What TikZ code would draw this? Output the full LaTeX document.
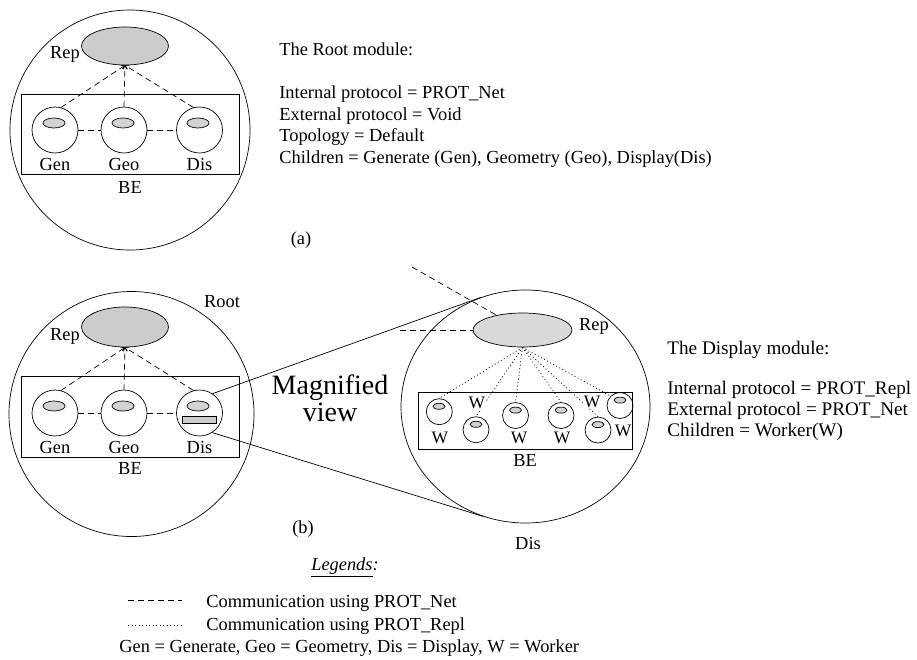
\documentclass[tikz,border=0pt]{standalone}
\usepackage{fontspec}
\setmainfont{Liberation Serif}
\usetikzlibrary{shapes.geometric, arrows.meta, positioning}
\tikzset{
  shell/.style={ellipse, draw, inner sep=0pt},
  repblob/.style={ellipse, draw, fill=gray!40, inner sep=0pt},
  module/.style={circle, draw, minimum size=46pt, inner sep=0pt},
  worker/.style={circle, draw, minimum size=26pt, inner sep=0pt},
  core/.style={ellipse, draw, fill=gray!35, inner sep=0pt},
  bebox/.style={rectangle, draw, inner sep=0pt},
  txt/.style={inner sep=1pt},
  wtag/.style={inner sep=0.5pt, fill=white, font=\fontsize{17.5}{19}\selectfont},
  netlink/.style={dash pattern=on 6pt off 4pt},
  repllink/.style={dash pattern=on 1pt off 2.5pt},
  uparrow/.style={-{Straight Barb[length=3pt,width=5pt]}},
}

\begin{document}
\begin{tikzpicture}[x=1pt, y=-1pt, line width=0.7pt, font=\fontsize{18.4}{21.7}\selectfont]
  \useasboundingbox (0,0) rectangle (917,659);

  % (a) the root module
  \node[shell, minimum width=240pt, minimum height=240pt] (roota) at (130,130) {};
  \node[repblob, minimum width=87pt, minimum height=38pt] (repa) at (125,46) {};
  \node[txt] (repalbl) at (65,54) {Rep};
  \node[bebox, minimum width=218pt, minimum height=80pt,
        label={[txt,label distance=6pt]below:BE}] (bea) at (130,134) {};
  \node[module, label={[txt,label distance=4pt]below:Gen}] (gena) at (55,130) {};
  \node[module, label={[txt,label distance=4pt]below:Geo}] (geoa) at (124,130) {};
  \node[module, label={[txt,label distance=4pt]below:Dis}] (disa) at (199.5,130) {};
  \node[core, minimum width=22pt, minimum height=10pt] (gencorea) at (54,123) {};
  \node[core, minimum width=22pt, minimum height=10pt] (geocorea) at (123,123) {};
  \node[core, minimum width=22pt, minimum height=10pt] (discorea) at (198,123) {};

  \draw[netlink, uparrow] (gena.75) -- (repa.south);
  \draw[netlink, uparrow] (geoa.north) -- (repa.south);
  \draw[netlink, uparrow] (disa.105) -- (repa.south);
  \draw[netlink] (gena) -- (geoa);
  \draw[netlink] (geoa) -- (disa);

  \node[txt, anchor=north west, align=left] (rootinfo) at (278,41)
    {The Root module:\\[21.7pt]
     Internal protocol = PROT\_Net\\
     External protocol = Void\\
     Topology = Default\\
     Children = Generate (Gen), Geometry (Geo), Display(Dis)};
  \node[txt] (capa) at (301,240) {(a)};

  % (b) the same root, with Display magnified
  \node[shell, minimum width=245pt, minimum height=245pt] (rootb) at (131.5,414) {};
  \node[txt] (rootlbl) at (222,302) {Root};
  \node[repblob, minimum width=87pt, minimum height=40pt] (repb) at (125,327) {};
  \node[txt] (repblbl) at (65,336) {Rep};
  \node[bebox, minimum width=218pt, minimum height=81pt,
        label={[txt,label distance=4pt]below:BE}] (beb) at (130,416.5) {};
  \node[module, label={[txt,label distance=4pt]below:Gen}] (genb) at (55,413) {};
  \node[module, label={[txt,label distance=4pt]below:Geo}] (geob) at (124,413) {};
  \node[module, label={[txt,label distance=4pt]below:Dis}] (disb) at (199.5,413) {};
  \node[core, minimum width=22pt, minimum height=10pt] (gencoreb) at (54,406) {};
  \node[core, minimum width=22pt, minimum height=10pt] (geocoreb) at (123,406) {};
  \node[core, minimum width=22pt, minimum height=10pt] (discoreb) at (198,406) {};
  \node[rectangle, draw, fill=gray!40, minimum width=34pt, minimum height=7pt,
        inner sep=0pt] (disbuf) at (199,419.5) {};

  \draw[netlink, uparrow] (genb.75) -- (repb.south);
  \draw[netlink, uparrow] (geob.north) -- (repb.south);
  \draw[netlink, uparrow] (disb.105) -- (repb.south);
  \draw[netlink] (genb) -- (geob);
  \draw[netlink] (geob) -- (disb);

  \node[txt, align=center, font=\fontsize{28}{27}\selectfont] (magtxt) at (330,398)
    {Magnified\\view};

  % magnified Display module
  \node[shell, minimum width=249pt, minimum height=233pt] (magdis) at (525.5,406.5) {};
  \node[txt] (magdislbl) at (528,543) {Dis};
  \draw (disb.56) -- (magdis.112);
  \draw (disb.-57) -- (magdis.-111);

  \node[repblob, fill=gray!30, minimum width=99pt, minimum height=34pt] (magrep) at (522.5,330) {};
  \node[txt] (magreplbl) at (594,326) {Rep};
  \coordinate (netin1) at (412,267);
  \coordinate (netin2) at (400,330);
  \draw[netlink] (netin1) -- (magrep);
  \draw[netlink] (netin2) -- (magrep);

  \node[bebox, minimum width=214pt, minimum height=57pt,
        label={[txt,label distance=4pt]below:BE}] (magbe) at (525,420.5) {};
  \node[worker] (w1) at (439.3,411.7) {};
  \node[worker] (w2) at (476,429.7) {};
  \node[worker] (w3) at (515.5,415.5) {};
  \node[worker] (w4) at (561,415.5) {};
  \node[worker] (w5) at (598,430) {};
  \node[worker] (w6) at (620,405.5) {};
  \node[core, minimum width=12pt, minimum height=6pt] (w1core) at (439,406.3) {};
  \node[core, minimum width=12pt, minimum height=6pt] (w2core) at (476,424.3) {};
  \node[core, minimum width=12pt, minimum height=6pt] (w3core) at (515.5,410.1) {};
  \node[core, minimum width=12pt, minimum height=6pt] (w4core) at (561,410.1) {};
  \node[core, minimum width=12pt, minimum height=6pt] (w5core) at (598,424.6) {};
  \node[core, minimum width=12pt, minimum height=6pt] (w6core) at (620,400.1) {};

  \draw[repllink] (magrep.south) -- (w1.north);
  \draw[repllink] (magrep.south) -- (w2.north);
  \draw[repllink] (magrep.south) -- (w3.north);
  \draw[repllink] (magrep.south) -- (w4.north);
  \draw[repllink] (magrep.south) -- (w5.north);
  \draw[repllink] (magrep.south) -- (w6.north west);

  \node[wtag] (w1lbl) at (440,438) {W};
  \node[wtag] (w2lbl) at (477,403) {W};
  \node[wtag] (w3lbl) at (519,438) {W};
  \node[wtag] (w4lbl) at (562,438) {W};
  \node[wtag] (w5lbl) at (592,402) {W};
  \node[wtag] (w6lbl) at (623,431) {W};

  \node[txt, anchor=north west, align=left, font=\fontsize{19.2}{21}\selectfont]
    (dispinfo) at (666,340)
    {The Display module:\\[19pt]
     Internal protocol = PROT\_Repl\\
     External protocol = PROT\_Net\\
     Children = Worker(W)};
  \node[txt] (capb) at (303,529) {(b)};

  % legend
  \node[txt] (legtitle) at (345,567) {\underline{\textit{Legends}}\textit{:}};
  \coordinate (neta) at (128,600);
  \coordinate (netb) at (182,600);
  \coordinate (repla) at (128,625);
  \coordinate (replb) at (182,625);
  \draw[netlink] (neta) -- (netb);
  \draw[repllink] (repla) -- (replb);
  \node[txt, anchor=base west] (netlbl) at (205,607) {Communication using PROT\_Net};
  \node[txt, anchor=base west] (repllbl) at (205,630) {Communication using PROT\_Repl};
  \node[txt, anchor=base west] (abbrev) at (118,652)
    {Gen = Generate, Geo = Geometry, Dis = Display, W = Worker};
\end{tikzpicture}
\end{document}
